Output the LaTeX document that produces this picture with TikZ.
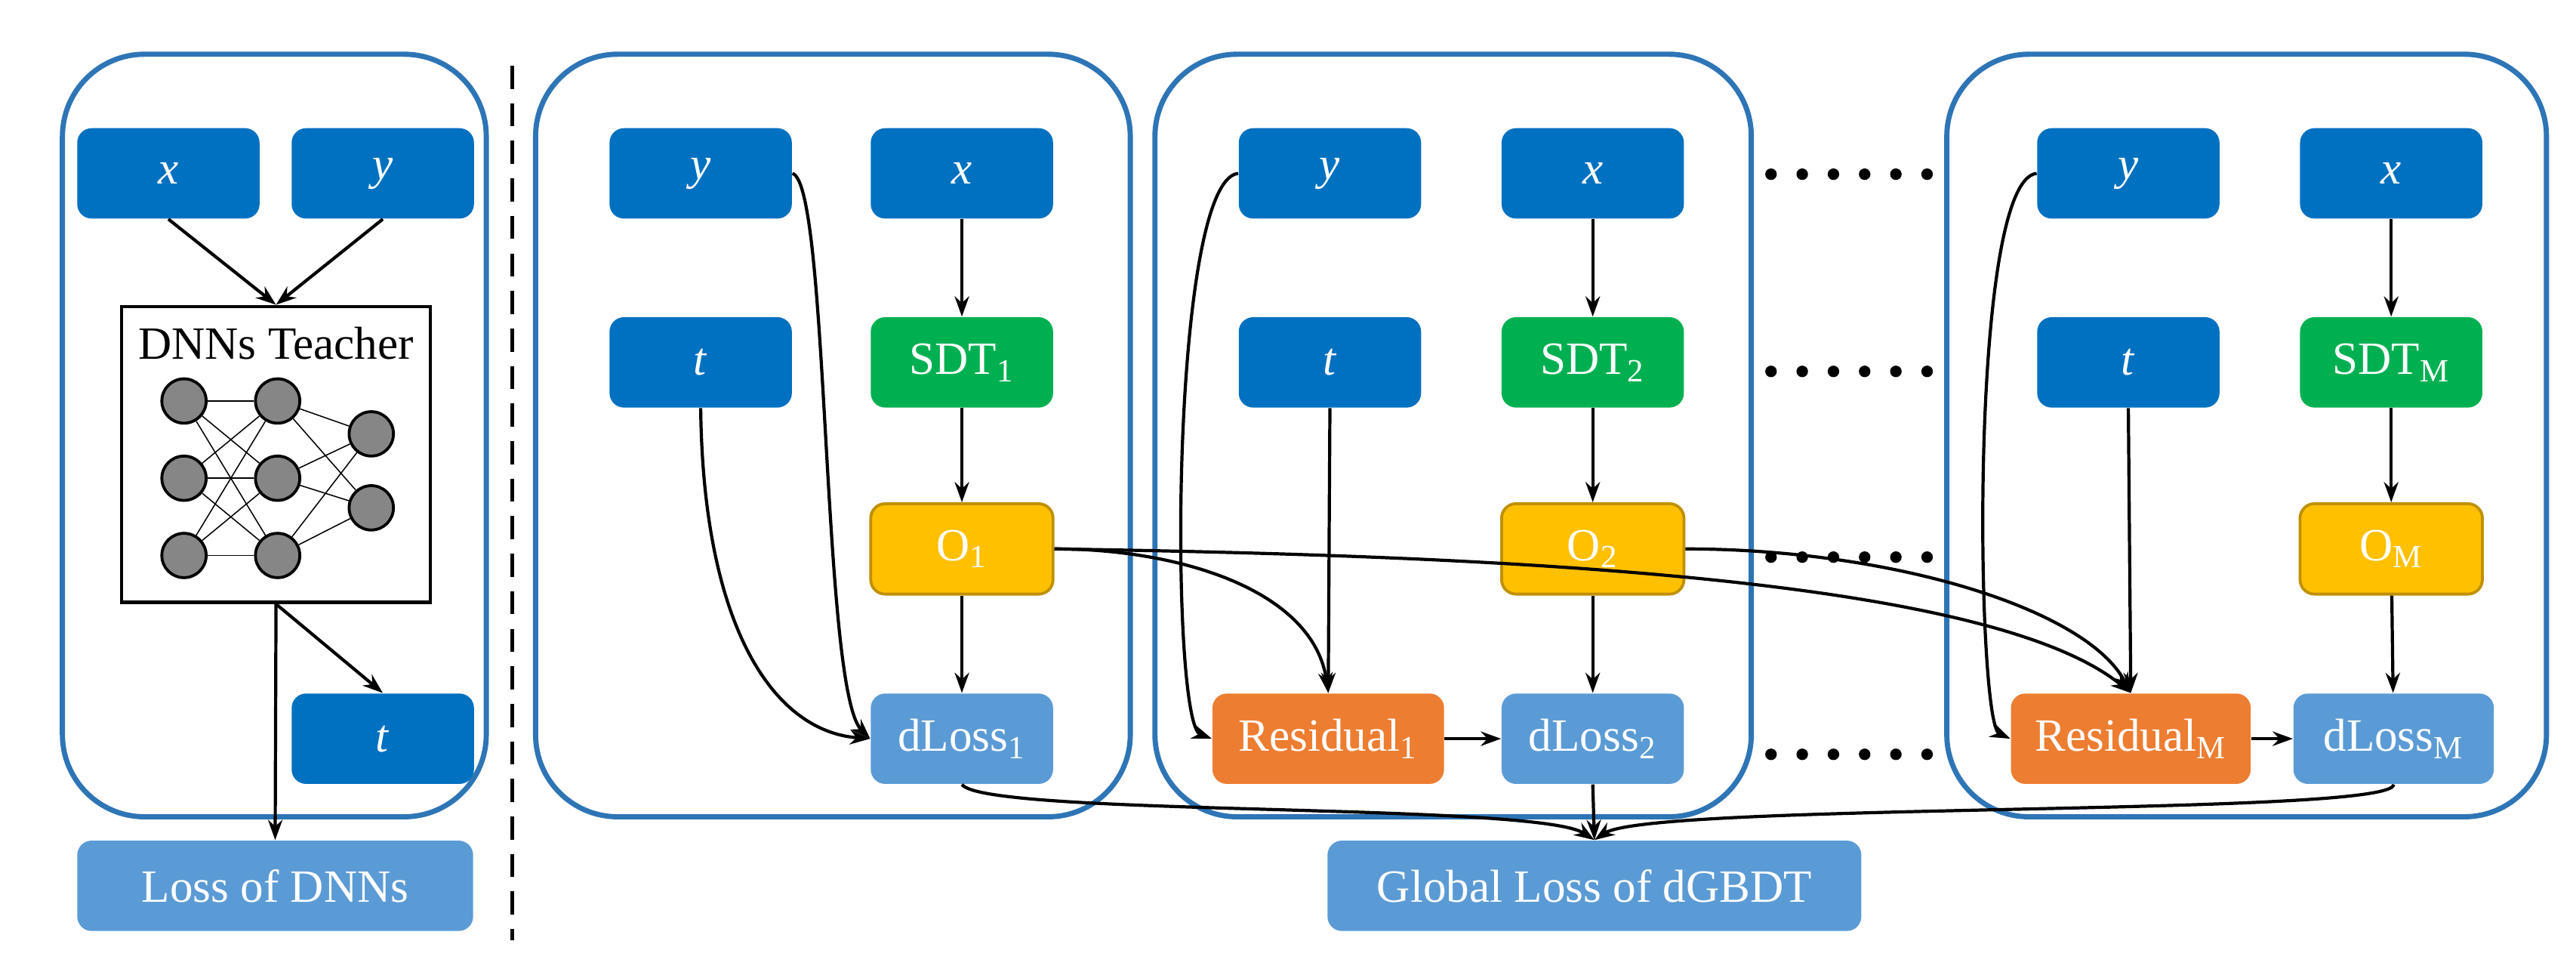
\documentclass[tikz,border=0pt]{standalone}
\usepackage{fontspec}
\setmainfont{Liberation Serif}
\usetikzlibrary{arrows.meta}
\definecolor{dblue}{HTML}{0070C0}
\definecolor{lblue}{HTML}{5B9BD5}
\definecolor{pblue}{HTML}{2E75B6}
\definecolor{gr}{HTML}{00B050}
\definecolor{yel}{HTML}{FFC000}
\definecolor{yelb}{HTML}{BF9000}
\definecolor{ora}{HTML}{ED7D31}
\begin{document}
\begin{tikzpicture}[x=0.02cm,y=-0.02cm,
  font=\fontsize{16}{18}\selectfont,
  box/.style={rectangle,rounded corners=5pt,minimum width=2.22cm,minimum height=1.1cm,inner sep=0pt,text=white},
  dk/.style={box,fill=dblue},
  lt/.style={box,fill=lblue},
  gn/.style={box,fill=gr},
  yl/.style={box,fill=yel,draw=yelb,line width=1pt},
  rs/.style={box,fill=ora,minimum width=2.85cm},
  panel/.style={draw=pblue,line width=1.8pt,rounded corners=1.0cm},
  ar/.style={-{Stealth[length=7pt,width=5pt]},line width=1.1pt},
  neuron/.style={circle,fill=gray!95,draw=black,line width=1pt,minimum size=0.54cm,inner sep=0pt},
  dot/.style={circle,fill=black,inner sep=0pt,minimum size=4pt}]
\useasboundingbox (0,0) rectangle (1568,591);
% panels
\draw[panel] (38,33) rectangle (296,497);
\draw[panel] (326,33) rectangle (688,497);
\draw[panel] (703,33) rectangle (1066,497);
\draw[panel] (1185,33) rectangle (1550,497);
\coordinate (d1) at (312,40); \coordinate (d2) at (312,572);
\draw[dashed,line width=1.3pt,dash pattern=on 8pt off 5pt] (d1) -- (d2);
% left panel
\node[dk] (lx) at (102.5,105.5) {\textit{x}};
\node[dk] (ly) at (233,105.5) {\textit{y}};
\node[draw=black,line width=1.2pt,minimum width=3.76cm,minimum height=3.6cm,inner sep=0pt] (teach) at (168,276.5) {};
\node (tlabel) at (168,209) {DNNs Teacher};
\node[dk] (lt) at (233,449.5) {\textit{t}};
\node[lt,minimum width=4.82cm] (lossd) at (167.5,539) {Loss of DNNs};
\foreach \i/\yy in {1/244,2/291,3/338} {\node[neuron] (a\i) at (112,\yy) {}; \node[neuron] (b\i) at (169,\yy) {};}
\node[neuron] (c1) at (226,264) {}; \node[neuron] (c2) at (226,309) {};
\foreach \i in {1,2,3} {\foreach \j in {1,2,3} {\draw[line width=0.4pt] (a\i) -- (b\j);}
  \foreach \j in {1,2} {\draw[line width=0.4pt] (b\i) -- (c\j);}}
\draw[ar] (lx.south) -- (teach.north);
\draw[ar] (ly.south) -- (teach.north);
\draw[ar] (teach.south) -- (lt.north);
\draw[ar] (teach.south) -- (lossd.north);
% panel 2
\node[dk] (y1) at (426.5,105.5) {\textit{y}};
\node[dk] (x1) at (585.5,105.5) {\textit{x}};
\node[dk] (t1) at (426.5,220.5) {\textit{t}};
\node[gn] (s1) at (585.5,220.5) {SDT\textsubscript{1}};
\node[yl] (o1) at (585.5,334) {O\textsubscript{1}};
\node[lt] (l1) at (585.5,449.5) {dLoss\textsubscript{1}};
% panel 3
\node[dk] (y2) at (809.5,105.5) {\textit{y}};
\node[dk] (x2) at (969.5,105.5) {\textit{x}};
\node[dk] (t2) at (809.5,220.5) {\textit{t}};
\node[gn] (s2) at (969.5,220.5) {SDT\textsubscript{2}};
\node[yl] (o2) at (969.5,334) {O\textsubscript{2}};
\node[rs,minimum width=2.82cm] (r1) at (808.5,449.5) {Residual\textsubscript{1}};
\node[lt] (l2) at (969.5,449.5) {dLoss\textsubscript{2}};
% panel 4
\node[dk] (y3) at (1295.5,105.5) {\textit{y}};
\node[dk] (x3) at (1455.5,105.5) {\textit{x}};
\node[dk] (t3) at (1295.5,220.5) {\textit{t}};
\node[gn] (s3) at (1455.5,220.5) {SDT\textsubscript{M}};
\node[yl] (o3) at (1455.5,334) {O\textsubscript{M}};
\node[rs,minimum width=2.92cm] (r3) at (1297,449.5) {Residual\textsubscript{M}};
\node[lt,minimum width=2.44cm] (l3) at (1457,449.5) {dLoss\textsubscript{M}};
\node[lt,minimum width=6.5cm] (glob) at (970.5,539) {Global Loss of dGBDT};
% dots
\foreach \yy in {106,226,339,459} {\foreach \k in {0,...,5} {\node[dot] at (1078+19*\k,\yy) {};}}
% vertical chains
\draw[ar] (x1) -- (s1); \draw[ar] (s1) -- (o1); \draw[ar] (o1) -- (l1);
\draw[ar] (x2) -- (s2); \draw[ar] (s2) -- (o2); \draw[ar] (o2) -- (l2);
\draw[ar] (x3) -- (s3); \draw[ar] (s3) -- (o3); \draw[ar] (o3) -- (l3);
\draw[ar] (r1) -- (l2); \draw[ar] (r3) -- (l3);
\draw[ar] (t2.south) -- (r1.north);
\draw[ar] (t3.south) -- (r3.north);
% curves
\draw[ar] (y1.east) .. controls (505,112) and (500,420) .. (l1.west);
\draw[ar] (t1.south) .. controls (428,380) and (470,445) .. (l1.west);
\draw[ar] (y2.west) .. controls (712,110) and (712,440) .. (r1.west);
\draw[ar] (o1.east) .. controls (720,334) and (800,360) .. (r1.north);
\draw[ar] (o1.east) .. controls (900,338) and (1210,350) .. (r3.north);
\draw[ar] (o2.east) .. controls (1150,334) and (1270,370) .. (r3.north);
\draw[ar] (y3.west) .. controls (1198,110) and (1203,440) .. (r3.west);
\draw[ar] (l1.south) .. controls (600,497) and (935,488) .. (glob.north);
\draw[ar] (l2.south) -- (glob.north);
\draw[ar] (l3.south) .. controls (1457,497) and (1005,488) .. (glob.north);
\end{tikzpicture}
\end{document}
